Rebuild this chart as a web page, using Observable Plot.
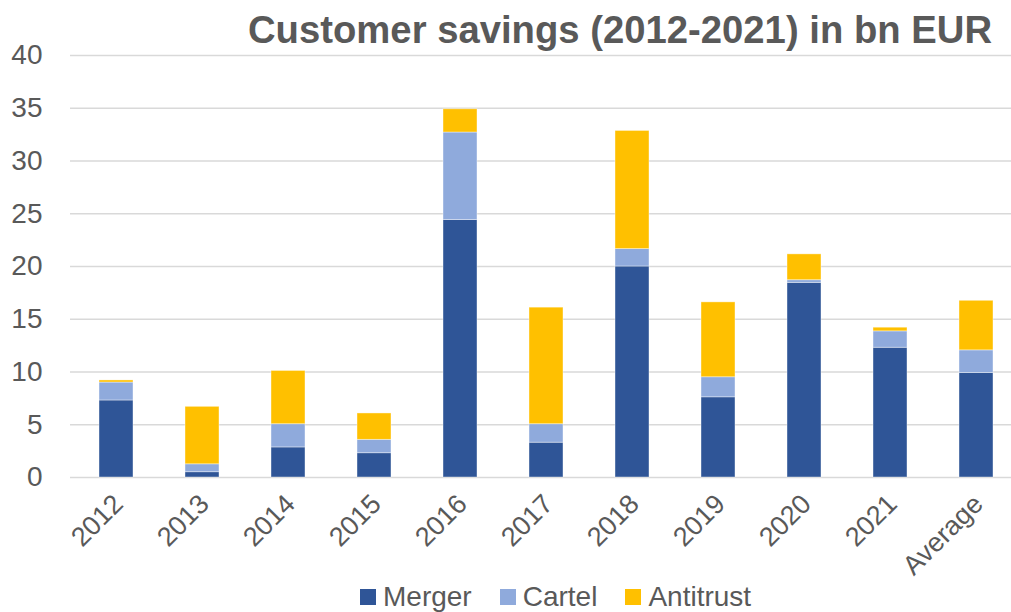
<!DOCTYPE html>
<html>
<head>
<meta charset="utf-8">
<script src="https://cdn.jsdelivr.net/npm/d3@7"></script>
<script src="https://cdn.jsdelivr.net/npm/@observablehq/plot@0.6"></script>
<style>
  html, body { margin: 0; padding: 0; background: #fff; }
  #wrap { position: relative; width: 1011px; height: 612px; overflow: hidden; font-family: "Liberation Sans", Arial, sans-serif; }
  #title { position: absolute; left: 0; top: 0; }
  #legend { position: absolute; left: 360px; top: 581px; display: flex; align-items: center; font-size: 28px; color: #595959; }
  #legend .item { display: flex; align-items: center; margin-right: 28px; }
  #legend .sw { width: 16px; height: 16px; margin-right: 7px; }
</style>
</head>
<body>
<div id="wrap">
  <div id="chart"></div>
  <svg id="title" width="1011" height="55">
    <text x="248" y="43" textLength="744" lengthAdjust="spacingAndGlyphs" font-family="Liberation Sans, Arial, sans-serif" font-weight="bold" font-size="39" fill="#595959">Customer savings (2012-2021) in bn EUR</text>
  </svg>
  <div id="legend"></div>
</div>
<script>
const years = ["2012", "2013", "2014", "2015", "2016", "2017", "2018", "2019", "2020", "2021", "Average"];
const merger    = [7.3, 0.5, 2.85, 2.3, 24.4, 3.3, 20.0, 7.6, 18.45, 12.3, 9.9];
const cartel    = [1.7, 0.75, 2.2, 1.27, 8.3, 1.75, 1.65, 1.9, 0.25, 1.55, 2.15];
const antitrust = [0.2, 5.45, 5.05, 2.5, 2.2, 11.05, 11.2, 7.1, 2.45, 0.35, 4.7];
const seriesNames = ["Merger", "Cartel", "Antitrust"];
const seriesColors = ["#2F5597", "#8FAADC", "#FFC000"];
const yTicks = [0, 5, 10, 15, 20, 25, 30, 35, 40];

const seriesValues = [merger, cartel, antitrust];
const data = [];
seriesNames.forEach((s, si) => {
  years.forEach((yr, i) => data.push({year: yr, type: s, value: seriesValues[si][i]}));
});

const chart = Plot.plot({
  width: 1011,
  height: 612,
  marginTop: 55,
  marginBottom: 135,
  marginLeft: 70,
  marginRight: 0,
  style: {fontFamily: "Liberation Sans, Arial, sans-serif", color: "#595959", background: "#fff"},
  x: {domain: years, range: [69.65, 1023.35], paddingInner: 0.6, paddingOuter: 0.3, axis: null},
  y: {domain: [0, 40], axis: null},
  color: {domain: seriesNames, range: seriesColors},
  marks: [
    Plot.gridY(yTicks, {stroke: "#d9d9d9", strokeOpacity: 1, strokeWidth: 1.4}),
    Plot.barY(data, {x: "year", y: "value", fill: "type", order: seriesNames, stroke: "#ffffff", strokeOpacity: 0.5, strokeWidth: 0.8}),
    Plot.axisY(yTicks, {tickSize: 0, tickPadding: 28, fontSize: 28, fill: "#595959", label: null}),
    Plot.text(years, {x: d => d, frameAnchor: "bottom", rotate: -45, textAnchor: "end", lineAnchor: "middle", dx: 2, dy: 22, fontSize: 27, fill: "#595959"})
  ]
});
document.getElementById("chart").appendChild(chart);

const legend = document.getElementById("legend");
seriesNames.forEach((s, i) => {
  const it = document.createElement("div");
  it.className = "item";
  const sw = document.createElement("span");
  sw.className = "sw";
  sw.style.background = seriesColors[i];
  const lb = document.createElement("span");
  lb.textContent = s;
  it.appendChild(sw);
  it.appendChild(lb);
  legend.appendChild(it);
});
</script>
</body>
</html>
